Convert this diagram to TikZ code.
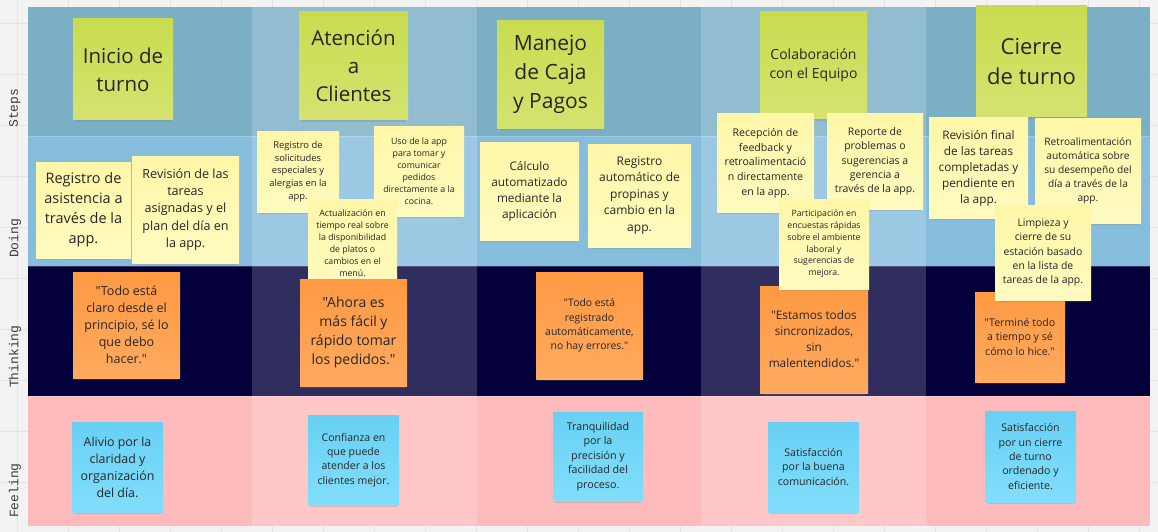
\documentclass[tikz,border=0pt]{standalone}
\usepackage{fontspec}
\setmainfont{Open Sans}[Ligatures=TeXOff]
\newfontfamily\lanefont{Liberation Mono}
\usetikzlibrary{shadows}
\definecolor{stepsrow}{RGB}{123,175,198}
\definecolor{doingrow}{RGB}{134,189,221}
\definecolor{thinkrow}{RGB}{3,0,60}
\definecolor{feelrow}{RGB}{255,187,187}
\definecolor{greentop}{RGB}{201,220,80}
\definecolor{greenbot}{RGB}{212,227,112}
\definecolor{yellowtop}{RGB}{255,246,168}
\definecolor{yellowbot}{RGB}{255,251,192}
\definecolor{orangetop}{RGB}{255,153,66}
\definecolor{orangebot}{RGB}{255,170,96}
\definecolor{bluetop}{RGB}{104,208,244}
\definecolor{bluebot}{RGB}{130,222,251}
\definecolor{ink}{RGB}{38,38,38}
\definecolor{canvas}{RGB}{243,243,243}
\definecolor{gridline}{RGB}{228,228,228}
\begin{document}
\begin{tikzpicture}[x=1pt, y=-1pt,
  sticky/.style={rectangle, inner sep=2pt, align=center, text=ink,
    drop shadow={opacity=.28, shadow xshift=0pt, shadow yshift=-4pt, shadow scale=.96}},
  step note/.style={sticky, top color=greentop, bottom color=greenbot},
  doing note/.style={sticky, top color=yellowtop, bottom color=yellowbot},
  think note/.style={sticky, top color=orangetop, bottom color=orangebot},
  feel note/.style={sticky, top color=bluetop, bottom color=bluebot},
  sz/.style 2 args={minimum width=#1pt, minimum height=#2pt},
  fs/.style 2 args={font=\fontsize{#1}{#2}\selectfont},
  lane/.style={rotate=90, anchor=west, inner sep=0pt, text=ink!90, font=\lanefont\fontsize{13}{13}\selectfont}]
\useasboundingbox (0,0) rectangle (1158,532);
% canvas and grid
\fill[canvas] (0,0) rectangle (1158,532);
\foreach \gx in {17,68,...,1158} \draw[gridline] (\gx,0) -- (\gx,532);
\foreach \gy in {23,74,...,532} \draw[gridline] (0,\gy) -- (1158,\gy);
% board rows
\fill[stepsrow] (28,7) rectangle (1150,136);
\fill[doingrow] (28,136) rectangle (1150,266);
\fill[thinkrow] (28,266) rectangle (1150,396);
\fill[feelrow] (28,396) rectangle (1150,526);
\fill[white, opacity=.18] (252.4,7) rectangle (476.8,526);
\fill[white, opacity=.18] (701.2,7) rectangle (925.6,526);
\draw[white, opacity=.2] (28,136) -- (1150,136) (28,266) -- (1150,266) (28,396) -- (1150,396);
% row labels
\node[lane] (lsteps) at (15,128) {Steps};
\node[lane] (ldoing) at (15,258) {Doing};
\node[lane] (lthink) at (15,388) {Thinking};
\node[lane] (lfeel) at (15,518) {Feeling};
% steps
\begin{scope}[every node/.style={step note}]
\node[sz={100}{101}, fs={20.5}{28}] (s1) at (123,69.5) {Inicio de\\turno};
\node[sz={109}{108}, fs={20.5}{28}] (s2) at (353.5,66) {Atención\\a\\Clientes};
\node[sz={107}{107}, fs={21}{29}] (s3) at (550.5,74.5) {Manejo\\de Caja\\y Pagos};
\node[sz={107}{107}, fs={14}{19}] (s4) at (813.5,65.5) {Colaboración\\con el Equipo};
\node[sz={111}{111}, fs={22}{30}] (s5) at (1031.5,61.5) {Cierre\\de turno};
\end{scope}
% doing
\begin{scope}[every node/.style={doing note}]
\node[sz={95}{96}, fs={14.5}{20}] (d1) at (83.5,210) {Registro de\\asistencia a\\través de la\\app.};
\node[sz={107}{107}, fs={12.6}{17.3}] (d2) at (185.5,209.5) {Revisión de las\\tareas\\asignadas y el\\plan del día en\\la app.};
\node[sz={82}{81}, fs={9.4}{12.9}] (d3) at (298,171.5) {Registro de\\solicitudes\\especiales y\\alergias en la\\app.};
\node[sz={90}{90}, fs={8.8}{12}] (d4) at (419,171) {Uso de la app\\para tomar y\\comunicar\\pedidos\\directamente a la\\cocina.};
\node[sz={89}{89}, fs={8.8}{12}] (d5) at (352.5,243.5) {Actualización en\\tiempo real sobre\\la disponibilidad\\de platos o\\cambios en el\\menú.};
\node[sz={99}{98}, fs={11.8}{16}] (d6) at (529.5,191) {Cálculo\\automatizado\\mediante la\\aplicación};
\node[sz={103}{103}, fs={12}{16.5}] (d7) at (639.5,195.5) {Registro\\automático de\\propinas y\\cambio en la\\app.};
\node[sz={97}{98}, fs={10.6}{14.7}] (d8) at (765.5,163) {Recepción de\\feedback y\\retroalimentació\\n directamente\\en la app.};
\node[sz={96}{95}, fs={10.5}{14.3}] (d9) at (875,161.5) {Reporte de\\problemas o\\sugerencias a\\gerencia a\\través de la app.};
\node[sz={99}{100}, fs={11.8}{16}] (d11) at (978.5,168) {Revisión final\\de las tareas\\completadas y\\pendiente en\\la app.};
\node[sz={106}{104}, fs={10.2}{14}] (d12) at (1088,171) {Retroalimentación\\automática sobre\\su desempeño del\\día a través de la\\app.};
\end{scope}
% thinking
\begin{scope}[every node/.style={think note}]
\node[sz={107}{106}, fs={12.5}{17}] (t1) at (126.5,325) {"Todo está\\claro desde el\\principio, sé lo\\que debo\\hacer."};
\node[sz={107}{107}, fs={14}{19}] (t2) at (353.5,332.5) {"Ahora es\\más fácil y\\rápido tomar\\los pedidos."};
\node[sz={107}{107}, fs={10.4}{14.3}] (t3) at (589.5,325.5) {"Todo está\\registrado\\automáticamente,\\no hay errores."};
\node[sz={108}{107}, fs={11.8}{16}] (t4) at (814,339.5) {"Estamos todos\\sincronizados,\\sin\\malentendidos."};
\node[sz={90}{90}, fs={10.6}{14.5}] (t5) at (1020,337) {"Terminé todo\\a tiempo y sé\\cómo lo hice."};
\end{scope}
% notes laid over the thinking row
\node[doing note, sz={90}{90}, fs={8.7}{11.8}] (d10) at (824,244) {Participación en\\encuestas rápidas\\sobre el ambiente\\laboral y\\sugerencias de\\mejora.};
\node[doing note, sz={96}{95}, fs={10.4}{14.3}] (d13) at (1043,252.5) {Limpieza y\\cierre de su\\estación basado\\en la lista de\\tareas de la app.};
% feeling
\begin{scope}[every node/.style={feel note}]
\node[sz={91}{90}, fs={12.4}{17}] (f1) at (117.5,467) {Alivio por la\\claridad y\\organización\\del día.};
\node[sz={91}{90}, fs={10.5}{14.3}] (f2) at (353.5,460) {Confianza en\\que puede\\atender a los\\clientes mejor.};
\node[sz={90}{89}, fs={10.7}{14.6}] (f3) at (598,456.5) {Tranquilidad\\por la\\precisión y\\facilidad del\\proceso.};
\node[sz={91}{90}, fs={10.6}{14.5}] (f4) at (813.5,467) {Satisfacción\\por la buena\\comunicación.};
\node[sz={91}{91}, fs={10.6}{14.4}] (f5) at (1030.5,456.5) {Satisfacción\\por un cierre\\de turno\\ordenado y\\eficiente.};
\end{scope}
\end{tikzpicture}
\end{document}
